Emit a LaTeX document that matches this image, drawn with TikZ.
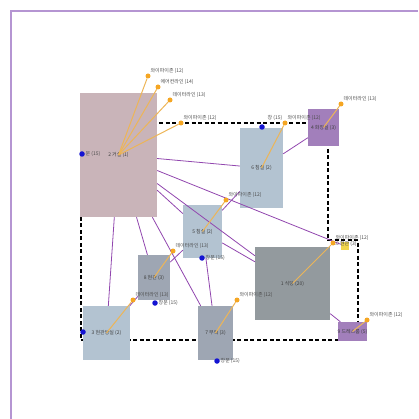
\documentclass[tikz,border=0pt]{standalone}
\usepackage{fontspec}
\setmainfont{Noto Sans CJK KR}
\definecolor{framecol}{HTML}{B595D2}
\definecolor{roompink}{HTML}{C9B4B9}
\definecolor{roomblue}{HTML}{B3C3D1}
\definecolor{roomslate}{HTML}{9EA6B3}
\definecolor{roomgray}{HTML}{939A9E}
\definecolor{roompurple}{HTML}{A27FBB}
\definecolor{roomyellow}{HTML}{F2D64B}
\definecolor{edgecol}{HTML}{9146AE}
\definecolor{spokecol}{HTML}{EDB557}
\definecolor{dotorange}{HTML}{F5A623}
\definecolor{dotblue}{HTML}{1414D2}
\begin{document}
\begin{tikzpicture}[x=1pt,y=-1pt,
  font=\fontsize{5}{5.5}\selectfont,
  room/.style={rectangle,inner sep=0pt,text=black!75},
  link/.style={draw=edgecol,line width=0.8pt},
  spoke/.style={draw=spokecol,line width=1pt},
  odot/.style={circle,fill=dotorange,inner sep=0pt,minimum size=5pt},
  bdot/.style={circle,fill=dotblue,inner sep=0pt,minimum size=5.5pt},
  tag/.style={inner sep=0.5pt,text=black!70}]
\useasboundingbox (0,0) rectangle (418,419);
% frame
\draw[framecol,line width=2.6pt] (11,419) -- (11,11) -- (418,11);
% dashed outline
\draw[line width=1.4pt,dash pattern=on 4pt off 2.5pt]
  (81,123) -- (328,123) -- (328,240) -- (358,240) -- (358,340) -- (81,340) -- cycle;
% rooms
\node[room,fill=roompink,minimum width=77pt,minimum height=124pt] (r2) at (118.5,155) {2 거실 (1)};
\node[room,fill=roomblue,minimum width=43pt,minimum height=80pt] (r6) at (261.5,168) {6 침실 (2)};
\node[room,fill=roompurple,minimum width=31pt,minimum height=37pt] (r4) at (323.5,127.5) {4 화장실 (3)};
\node[room,fill=roomblue,minimum width=39pt,minimum height=53pt] (r5) at (202.5,231.5) {5 침실 (2)};
\node[room,fill=roomslate,minimum width=32pt,minimum height=45pt] (r8) at (154,277.5) {8 현관 (3)};
\node[room,fill=roomblue,minimum width=47pt,minimum height=54pt] (r3) at (106.5,333) {3 현관방실 (2)};
\node[room,fill=roomgray,minimum width=75pt,minimum height=73pt] (r1) at (292.5,283.5) {1 식당 (20)};
\node[room,fill=roomslate,minimum width=35pt,minimum height=54pt] (r7) at (215.5,333) {7 부엌 (3)};
\node[room,fill=roompurple,minimum width=21pt,minimum height=19pt] (r9) at (352.5,331.5) {9 드레스룸 (5)};
\node[room,fill=roomyellow,minimum width=8pt,minimum height=8pt] (r10) at (345,246) {};
\node[tag] (t10) at (345,244) {10 현관 (3)};
% links
\path[link] (r2) -- (r6);
\path[link] (r2) -- (r10);
\path[link] (r2) -- (r5);
\path[link] (r2) -- (r1);
\path[link] (r2) -- (r3);
\path[link] (r2) -- (r8);
\path[link] (r2) -- (r7);
\path[link] (r6) -- (r4);
\path[link] (r6) -- (r5);
\path[link] (r5) -- (r1);
\path[link] (r8) -- (r5);
\path[link] (r8) -- (r3);
\path[link] (r7) -- (r5);
\path[link] (r1) -- (r9);
% feature dots
\node[odot] (a1) at (148,76) {};
\node[odot] (a2) at (158,87) {};
\node[odot] (a3) at (170,100) {};
\node[odot] (a4) at (181,123) {};
\node[bdot] (b2) at (82,154) {};
\node[odot] (a6) at (285,123) {};
\node[bdot] (b6) at (262,127) {};
\node[odot] (a7) at (341,104) {};
\node[odot] (a8) at (226,200) {};
\node[bdot] (b5) at (202,258) {};
\node[odot] (a9) at (173,251) {};
\node[bdot] (b8) at (155,303) {};
\node[odot] (a10) at (133,300) {};
\node[bdot] (b3) at (83,332) {};
\node[odot] (a11) at (333,243) {};
\node[odot] (a12) at (237,300) {};
\node[bdot] (b7) at (217,361) {};
\node[odot] (a13) at (367,320) {};
% spokes
\foreach \d in {a1,a2,a3,a4} \path[spoke] (r2.center) -- (\d);
\path[spoke] (r6.center) -- (a6);
\path[spoke] (r4.center) -- (a7);
\path[spoke] (r5.center) -- (a8);
\path[spoke] (r8.center) -- (a9);
\path[spoke] (r3.center) -- (a10);
\path[spoke] (r1.center) -- (a11);
\path[spoke] (r7.center) -- (a12);
\path[spoke] (r9.center) -- (a13);
% tags
\node[tag,anchor=south west] at (a1.north east) {와이파이존 (12)};
\node[tag,anchor=south west] at (a2.north east) {에어컨라인 (14)};
\node[tag,anchor=south west] at (a3.north east) {데이터라인 (13)};
\node[tag,anchor=south west] at (a4.north east) {와이파이존 (12)};
\node[tag,anchor=west] at (b2.east) {문 (15)};
\node[tag,anchor=south west] at (a6.north east) {와이파이존 (12)};
\node[tag,anchor=south east] at (a6.north west) {창 (15)};
\node[tag,anchor=south west] at (a7.north east) {데이터라인 (13)};
\node[tag,anchor=south west] at (a8.north east) {와이파이존 (12)};
\node[tag,anchor=west] at (b5.east) {창문 (15)};
\node[tag,anchor=south west] at (a9.north east) {데이터라인 (13)};
\node[tag,anchor=west] at (b8.east) {창문 (15)};
\node[tag,anchor=south west] at (a10.north east) {데이터라인 (13)};
\node[tag,anchor=south west] at (a11.north east) {와이파이존 (12)};
\node[tag,anchor=south west] at (a12.north east) {와이파이존 (12)};
\node[tag,anchor=west] at (b7.east) {창문 (15)};
\node[tag,anchor=south west] at (a13.north east) {와이파이존 (12)};
\end{tikzpicture}
\end{document}
